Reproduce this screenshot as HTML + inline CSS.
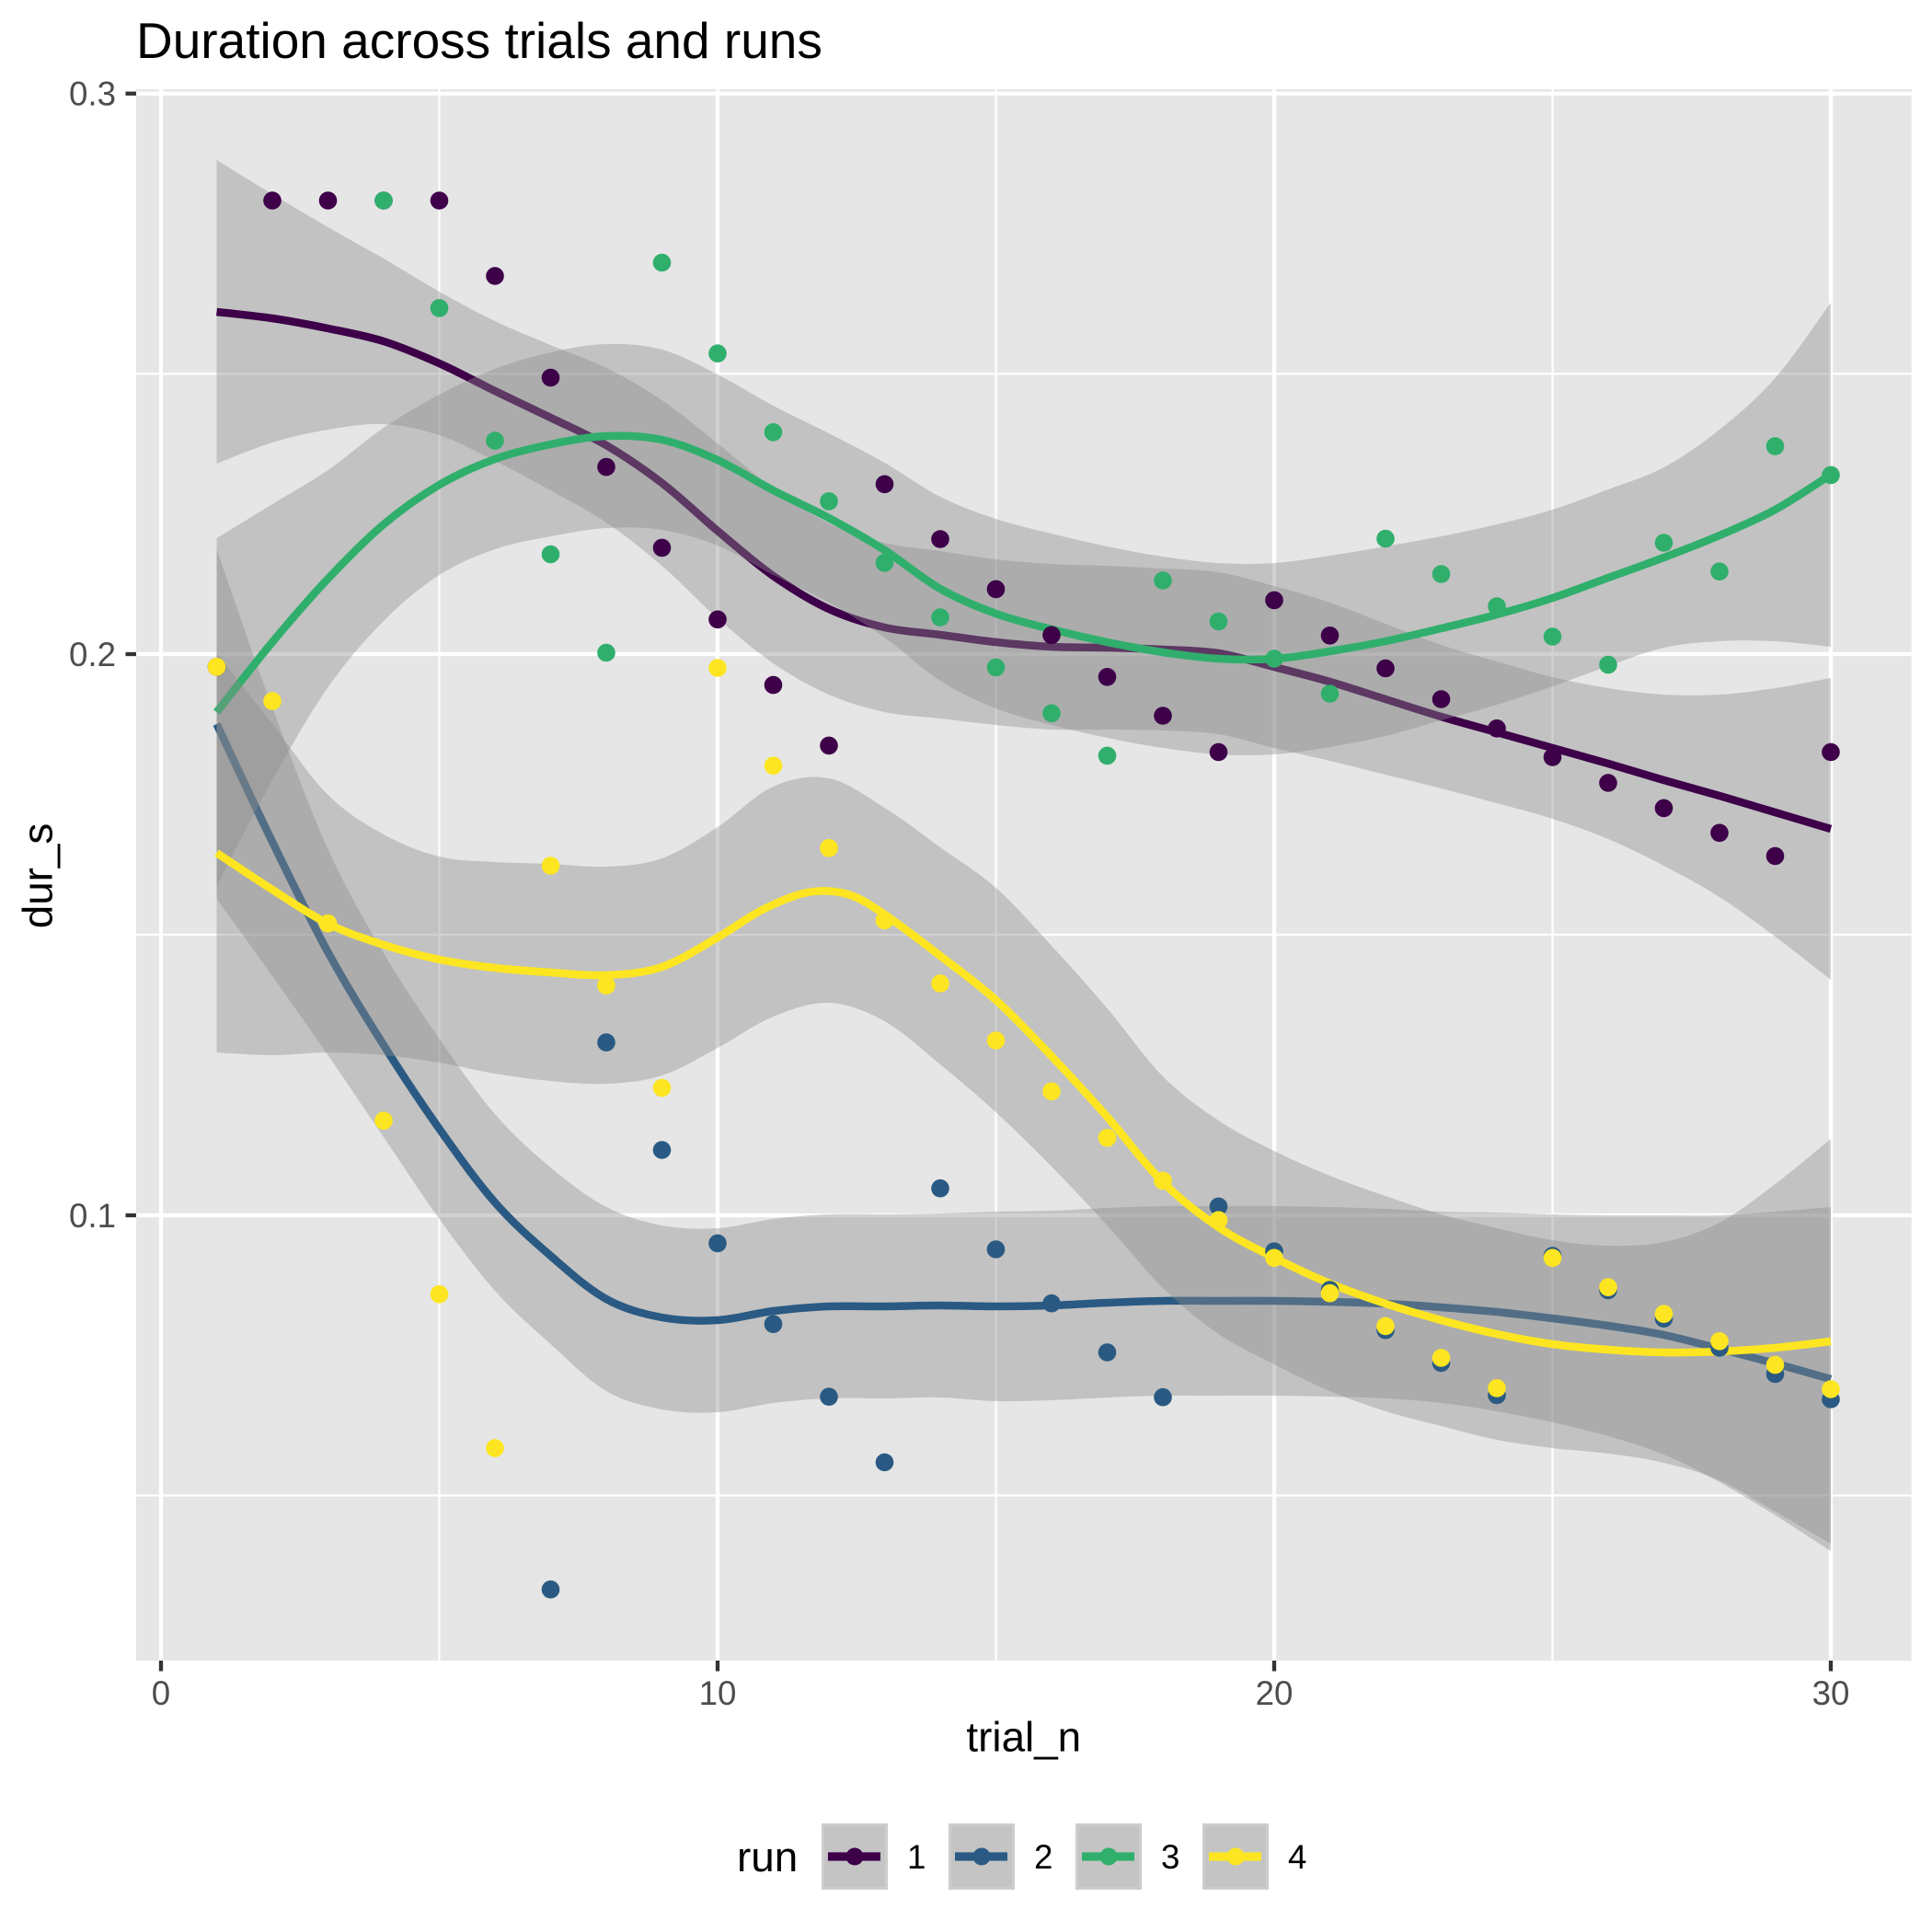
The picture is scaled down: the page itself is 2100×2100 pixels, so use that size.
<!DOCTYPE html>
<html>
<head>
<meta charset="utf-8">
<style>
html,body{margin:0;padding:0;background:#fff;}
svg{display:block;}
text{font-family:"Liberation Sans",Arial,Helvetica,sans-serif;}
</style>
</head>
<body>
<svg id="chart" width="2100" height="2100" viewBox="0 0 2100 2100" xmlns="http://www.w3.org/2000/svg">
<rect x="0" y="0" width="2100" height="2100" fill="#ffffff"/>
<!-- title -->
<text x="148" y="63" font-size="55" fill="#000">Duration across trials and runs</text>

<!-- panel -->
<rect x="148" y="97" width="1929.7" height="1708" fill="#E6E6E6"/>
<g stroke="#ffffff" fill="none">
  <g stroke-width="2.2">
    <line x1="148" x2="2077.7" y1="1625.5" y2="1625.5"/>
    <line x1="148" x2="2077.7" y1="1016" y2="1016"/>
    <line x1="148" x2="2077.7" y1="406.3" y2="406.3"/>
    <line y1="97" y2="1805" x1="477.5" x2="477.5"/>
    <line y1="97" y2="1805" x1="1082.5" x2="1082.5"/>
    <line y1="97" y2="1805" x1="1687.5" x2="1687.5"/>
  </g>
  <g stroke-width="4.3">
    <line x1="148" x2="2077.7" y1="1321" y2="1321"/>
    <line x1="148" x2="2077.7" y1="711" y2="711"/>
    <line x1="148" x2="2077.7" y1="101.7" y2="101.7"/>
    <line y1="97" y2="1805" x1="175" x2="175"/>
    <line y1="97" y2="1805" x1="780" x2="780"/>
    <line y1="97" y2="1805" x1="1385" x2="1385"/>
    <line y1="97" y2="1805" x1="1990" x2="1990"/>
  </g>
</g>

<!-- run 1 -->
<polygon class="band" fill="#8C8C8C" fill-opacity="0.4" points="235.5,174 296,211 356.5,247 417,281 477.5,317 538,349 598.5,375 659,400 719.5,435 780,482 840.5,531 901,569 961.5,590 1022,599 1082.5,608 1143,613 1203.5,615 1264,618 1324.5,622 1385,637 1445.5,655 1506,678 1566.5,701 1627,719 1687.5,736 1748,748 1808.5,755 1869,755 1929.5,748 1990,737 1990,1065 1929.5,1018 1869,975 1808.5,941 1748,912 1687.5,890 1627,873 1566.5,857 1506,842 1445.5,827 1385,813 1324.5,798 1264,794 1203.5,793 1143,793 1082.5,788 1022,781 961.5,774 901,755 840.5,721 780,672 719.5,615 659,568 598.5,533 538,501 477.5,473 417,461 356.5,467 296,481 235.5,504"/>
<polyline class="sm" fill="none" stroke="#3D0049" stroke-width="8.5" stroke-linejoin="round" points="235.5,339 296,346 356.5,357 417,371 477.5,395 538,425 598.5,454 659,484 719.5,525 780,577 840.5,626 901,662 961.5,682 1022,690 1082.5,698 1143,703 1203.5,704 1264,706 1324.5,710 1385,725 1445.5,741 1506,760 1566.5,779 1627,796 1687.5,813 1748,830 1808.5,848 1869,865 1929.5,883 1990,901"/>

<!-- run 2 -->
<polygon class="band" fill="#8C8C8C" fill-opacity="0.4" points="235.5,597 296,769 356.5,923 417,1036 477.5,1129 538,1211 598.5,1269 659,1312 719.5,1332 780,1335 840.5,1325 901,1320 961.5,1320 1022,1319 1082.5,1317 1143,1316 1203.5,1313 1264,1311 1324.5,1311 1385,1311 1445.5,1312 1506,1314 1566.5,1317 1627,1318 1687.5,1320 1748,1321 1808.5,1321 1869,1321 1929.5,1317 1990,1312 1990,1686 1929.5,1647 1869,1611 1808.5,1581 1748,1561 1687.5,1546 1627,1534 1566.5,1525 1506,1520 1445.5,1518 1385,1517 1324.5,1517 1264,1517 1203.5,1519 1143,1522 1082.5,1523 1022,1519 961.5,1520 901,1520 840.5,1525 780,1535 719.5,1532 659,1512 598.5,1461 538,1403 477.5,1325 417,1236 356.5,1147 296,1061 235.5,977"/>
<polyline class="sm" fill="none" stroke="#2A5A83" stroke-width="8.5" stroke-linejoin="round" points="235.5,787 296,915 356.5,1035 417,1136 477.5,1227 538,1307 598.5,1365 659,1412 719.5,1432 780,1435 840.5,1425 901,1420 961.5,1420 1022,1419 1082.5,1420 1143,1419 1203.5,1416 1264,1414 1324.5,1414 1385,1414 1445.5,1415 1506,1417 1566.5,1421 1627,1426 1687.5,1433 1748,1441 1808.5,1451 1869,1466 1929.5,1482 1990,1499"/>

<!-- run 3 -->
<polygon class="band" fill="#8C8C8C" fill-opacity="0.4" points="235.5,585 296,548 356.5,511 417,465 477.5,429 538,401 598.5,383 659,374 719.5,380 780,407 840.5,441 901,471 961.5,503 1022,540 1082.5,564 1143,580 1203.5,594 1264,605 1324.5,612 1385,612 1445.5,604 1506,594 1566.5,583 1627,570 1687.5,554 1748,532 1808.5,508 1869,467 1929.5,411 1990,329 1990,703 1929.5,697 1869,697 1808.5,704 1748,724 1687.5,746 1627,766 1566.5,783 1506,800 1445.5,812 1385,820 1324.5,820 1264,813 1203.5,802 1143,788 1082.5,770 1022,740 961.5,693 901,655 840.5,625 780,593 719.5,576 659,574 598.5,583 538,597 477.5,625 417,675 356.5,747 296,848 235.5,963"/>
<polyline class="sm" fill="none" stroke="#30AF6C" stroke-width="8.5" stroke-linejoin="round" points="235.5,774 296,698 356.5,629 417,570 477.5,527 538,499 598.5,483 659,474 719.5,478 780,500 840.5,533 901,563 961.5,598 1022,640 1082.5,667 1143,684 1203.5,698 1264,709 1324.5,716 1385,716 1445.5,708 1506,697 1566.5,683 1627,668 1687.5,650 1748,628 1808.5,606 1869,582 1929.5,554 1990,516"/>

<!-- run 4 -->
<polygon class="band" fill="#8C8C8C" fill-opacity="0.4" points="235.5,710 296,787 356.5,864 417,907 477.5,931 538,937 598.5,939 659,942 719.5,933 780,899 840.5,855 901,846 961.5,878 1022,921 1082.5,965 1143,1028 1203.5,1096 1264,1170 1324.5,1218 1385,1251 1445.5,1278 1506,1300 1566.5,1320 1627,1335 1687.5,1348 1748,1354 1808.5,1350 1869,1329 1929.5,1287 1990,1238 1990,1678 1929.5,1643 1869,1609 1808.5,1590 1748,1580 1687.5,1574 1627,1565 1566.5,1550 1506,1534 1445.5,1512 1385,1483 1324.5,1450 1264,1400 1203.5,1332 1143,1268 1082.5,1209 1022,1157 961.5,1110 901,1090 840.5,1105 780,1139 719.5,1169 659,1178 598.5,1175 538,1167 477.5,1155 417,1147 356.5,1144 296,1147 235.5,1144"/>
<polyline class="sm" fill="none" stroke="#FDE621" stroke-width="8.5" stroke-linejoin="round" points="235.5,927 296,967 356.5,1004 417,1027 477.5,1043 538,1052 598.5,1057 659,1060 719.5,1051 780,1019 828.5,989 877.9,970 921.3,972 961.5,994 1022,1039 1082.5,1087 1143,1148 1203.5,1214 1264,1285 1324.5,1334 1385,1367 1445.5,1395 1506,1417 1566.5,1435 1627,1450 1687.5,1461 1748,1467 1808.5,1470 1869,1469 1929.5,1465 1990,1458"/>

<!-- points run 1 -->
<g fill="#3D0049">
<circle cx="235.5" cy="724.8" r="9.8"/>
<circle cx="296" cy="218" r="9.8"/><circle cx="356.5" cy="218" r="9.8"/><circle cx="417" cy="218" r="9.8"/><circle cx="477.5" cy="218" r="9.8"/>
<circle cx="538" cy="300" r="9.8"/><circle cx="598.5" cy="410.5" r="9.8"/><circle cx="659" cy="507.6" r="9.8"/><circle cx="719.5" cy="595.4" r="9.8"/>
<circle cx="780" cy="673.3" r="9.8"/><circle cx="840.5" cy="744.6" r="9.8"/><circle cx="901" cy="810.4" r="9.8"/><circle cx="961.5" cy="526.3" r="9.8"/>
<circle cx="1022" cy="586" r="9.8"/><circle cx="1082.5" cy="640.4" r="9.8"/><circle cx="1143" cy="690.3" r="9.8"/><circle cx="1203.5" cy="735.8" r="9.8"/>
<circle cx="1264" cy="778" r="9.8"/><circle cx="1324.5" cy="817.5" r="9.8"/><circle cx="1385" cy="652.4" r="9.8"/><circle cx="1445.5" cy="690.8" r="9.8"/>
<circle cx="1506" cy="726.5" r="9.8"/><circle cx="1566.5" cy="760" r="9.8"/><circle cx="1627" cy="791.8" r="9.8"/><circle cx="1687.5" cy="823" r="9.8"/>
<circle cx="1748" cy="851" r="9.8"/><circle cx="1808.5" cy="878.4" r="9.8"/><circle cx="1869" cy="905.3" r="9.8"/><circle cx="1929.5" cy="930.5" r="9.8"/>
<circle cx="1990" cy="817.5" r="9.8"/>
</g>
<!-- points run 2 -->
<g fill="#2A5A83">
<circle cx="598.5" cy="1727.7" r="9.8"/><circle cx="659" cy="1133.1" r="9.8"/><circle cx="719.5" cy="1250" r="9.8"/><circle cx="780" cy="1351.4" r="9.8"/>
<circle cx="840.5" cy="1439.2" r="9.8"/><circle cx="901" cy="1518.2" r="9.8"/><circle cx="961.5" cy="1589.5" r="9.8"/><circle cx="1022" cy="1291.7" r="9.8"/>
<circle cx="1082.5" cy="1358" r="9.8"/><circle cx="1143" cy="1416.7" r="9.8"/><circle cx="1203.5" cy="1470" r="9.8"/><circle cx="1264" cy="1518.7" r="9.8"/>
<circle cx="1324.5" cy="1311.4" r="9.8"/><circle cx="1385" cy="1360.2" r="9.8"/><circle cx="1445.5" cy="1402" r="9.8"/><circle cx="1506" cy="1445.8" r="9.8"/>
<circle cx="1566.5" cy="1481.4" r="9.8"/><circle cx="1627" cy="1516.5" r="9.8"/><circle cx="1687.5" cy="1365" r="9.8"/><circle cx="1748" cy="1402.5" r="9.8"/>
<circle cx="1808.5" cy="1433.2" r="9.8"/><circle cx="1869" cy="1465" r="9.8"/><circle cx="1929.5" cy="1493.5" r="9.8"/><circle cx="1990" cy="1521" r="9.8"/>
</g>
<!-- points run 3 -->
<g fill="#30AF6C">
<circle cx="417" cy="218" r="9.8"/><circle cx="477.5" cy="334.9" r="9.8"/><circle cx="538" cy="479.1" r="9.8"/><circle cx="598.5" cy="602.5" r="9.8"/>
<circle cx="659" cy="709.5" r="9.8"/><circle cx="719.5" cy="285.5" r="9.8"/><circle cx="780" cy="384.2" r="9.8"/><circle cx="840.5" cy="469.8" r="9.8"/>
<circle cx="901" cy="544.9" r="9.8"/><circle cx="961.5" cy="611.8" r="9.8"/><circle cx="1022" cy="671.1" r="9.8"/><circle cx="1082.5" cy="725.4" r="9.8"/>
<circle cx="1143" cy="775.3" r="9.8"/><circle cx="1203.5" cy="821.4" r="9.8"/><circle cx="1264" cy="631" r="9.8"/><circle cx="1324.5" cy="675.5" r="9.8"/>
<circle cx="1385" cy="716" r="9.8"/><circle cx="1445.5" cy="754" r="9.8"/><circle cx="1506" cy="585.5" r="9.8"/><circle cx="1566.5" cy="624" r="9.8"/>
<circle cx="1627" cy="659" r="9.8"/><circle cx="1687.5" cy="692" r="9.8"/><circle cx="1748" cy="722.6" r="9.8"/><circle cx="1808.5" cy="590" r="9.8"/>
<circle cx="1869" cy="621.2" r="9.8"/><circle cx="1929.5" cy="485.1" r="9.8"/><circle cx="1990" cy="516.4" r="9.8"/>
</g>
<!-- points run 4 -->
<g fill="#FDE621">
<circle cx="235.5" cy="724.8" r="9.8"/><circle cx="296" cy="762.1" r="9.8"/><circle cx="356.5" cy="1003.7" r="9.8"/><circle cx="417" cy="1218.2" r="9.8"/>
<circle cx="477.5" cy="1406.8" r="9.8"/><circle cx="538" cy="1574.1" r="9.8"/><circle cx="598.5" cy="941" r="9.8"/><circle cx="659" cy="1071.2" r="9.8"/>
<circle cx="719.5" cy="1182.5" r="9.8"/><circle cx="780" cy="726" r="9.8"/><circle cx="840.5" cy="832.3" r="9.8"/><circle cx="901" cy="921.8" r="9.8"/>
<circle cx="961.5" cy="1000.4" r="9.8"/><circle cx="1022" cy="1069" r="9.8"/><circle cx="1082.5" cy="1131" r="9.8"/><circle cx="1143" cy="1186.3" r="9.8"/>
<circle cx="1203.5" cy="1236.8" r="9.8"/><circle cx="1264" cy="1283.4" r="9.8"/><circle cx="1324.5" cy="1326.2" r="9.8"/><circle cx="1385" cy="1367.3" r="9.8"/>
<circle cx="1445.5" cy="1405.7" r="9.8"/><circle cx="1506" cy="1441.4" r="9.8"/><circle cx="1566.5" cy="1476" r="9.8"/><circle cx="1627" cy="1508.9" r="9.8"/>
<circle cx="1687.5" cy="1367.3" r="9.8"/><circle cx="1748" cy="1399.2" r="9.8"/><circle cx="1808.5" cy="1428.2" r="9.8"/><circle cx="1869" cy="1457.8" r="9.8"/>
<circle cx="1929.5" cy="1483.6" r="9.8"/><circle cx="1990" cy="1510" r="9.8"/>
</g>

<!-- axis ticks -->
<g stroke="#333333" stroke-width="4.3">
  <line x1="136.5" x2="148" y1="101.7" y2="101.7"/>
  <line x1="136.5" x2="148" y1="711" y2="711"/>
  <line x1="136.5" x2="148" y1="1321" y2="1321"/>
  <line x1="175" x2="175" y1="1805" y2="1816.5"/>
  <line x1="780" x2="780" y1="1805" y2="1816.5"/>
  <line x1="1385" x2="1385" y1="1805" y2="1816.5"/>
  <line x1="1990" x2="1990" y1="1805" y2="1816.5"/>
</g>
<g font-size="36.7" fill="#4D4D4D">
  <text x="126" y="114.7" text-anchor="end">0.3</text>
  <text x="126" y="724" text-anchor="end">0.2</text>
  <text x="126" y="1334" text-anchor="end">0.1</text>
  <text x="175" y="1853" text-anchor="middle">0</text>
  <text x="780" y="1853" text-anchor="middle">10</text>
  <text x="1385" y="1853" text-anchor="middle">20</text>
  <text x="1990" y="1853" text-anchor="middle">30</text>
</g>
<!-- axis titles -->
<text x="1112.8" y="1903.5" font-size="45.8" text-anchor="middle" fill="#000">trial_n</text>
<text transform="translate(56.5,952) rotate(-90)" font-size="45.8" text-anchor="middle" fill="#000">dur_s</text>

<!-- legend -->
<text x="801" y="2034" font-size="45.8" fill="#000">run</text>
<g>
  <rect x="893" y="1982" width="72" height="72" fill="#CDCDCD"/>
  <rect x="896" y="1985" width="66" height="66" fill="#C4C4C4"/>
  <line x1="900" x2="957" y1="2018" y2="2018" stroke="#3D0049" stroke-width="9.3"/>
  <circle cx="929" cy="2018" r="9.5" fill="#3D0049"/>
  <text x="986" y="2031" font-size="36.7" fill="#000">1</text>

  <rect x="1031" y="1982" width="72" height="72" fill="#CDCDCD"/>
  <rect x="1034" y="1985" width="66" height="66" fill="#C4C4C4"/>
  <line x1="1038" x2="1095" y1="2018" y2="2018" stroke="#2A5A83" stroke-width="9.3"/>
  <circle cx="1067" cy="2018" r="9.5" fill="#2A5A83"/>
  <text x="1124" y="2031" font-size="36.7" fill="#000">2</text>

  <rect x="1169" y="1982" width="72" height="72" fill="#CDCDCD"/>
  <rect x="1172" y="1985" width="66" height="66" fill="#C4C4C4"/>
  <line x1="1176" x2="1233" y1="2018" y2="2018" stroke="#30AF6C" stroke-width="9.3"/>
  <circle cx="1205" cy="2018" r="9.5" fill="#30AF6C"/>
  <text x="1262" y="2031" font-size="36.7" fill="#000">3</text>

  <rect x="1307" y="1982" width="72" height="72" fill="#CDCDCD"/>
  <rect x="1310" y="1985" width="66" height="66" fill="#C4C4C4"/>
  <line x1="1314" x2="1371" y1="2018" y2="2018" stroke="#FDE621" stroke-width="9.3"/>
  <circle cx="1343" cy="2018" r="9.5" fill="#FDE621"/>
  <text x="1400" y="2031" font-size="36.7" fill="#000">4</text>
</g>
</svg>
<script>
(function(){
  try{
    var NS='http://www.w3.org/2000/svg';
    function parse(s){
      var parts=s.trim().split(/\s+/), out=[];
      for(var i=0;i<parts.length;i++){var q=parts[i].split(',');out.push([parseFloat(q[0]),parseFloat(q[1])]);}
      return out;
    }
    function cr(pts,move){
      var d=(move?'M':'L')+pts[0][0]+','+pts[0][1];
      for(var i=0;i<pts.length-1;i++){
        var p0=pts[i-1]||pts[i], p1=pts[i], p2=pts[i+1], p3=pts[i+2]||pts[i+1];
        var c1x=p1[0]+(p2[0]-p0[0])/6, c1y=p1[1]+(p2[1]-p0[1])/6;
        var c2x=p2[0]-(p3[0]-p1[0])/6, c2y=p2[1]-(p3[1]-p1[1])/6;
        d+=' C'+c1x.toFixed(2)+','+c1y.toFixed(2)+' '+c2x.toFixed(2)+','+c2y.toFixed(2)+' '+p2[0]+','+p2[1];
      }
      return d;
    }
    function copyAttrs(from,to,names){
      for(var i=0;i<names.length;i++){if(from.hasAttribute(names[i]))to.setAttribute(names[i],from.getAttribute(names[i]));}
    }
    var lines=document.querySelectorAll('polyline.sm');
    for(var i=0;i<lines.length;i++){
      var el=lines[i], pts=parse(el.getAttribute('points'));
      var p=document.createElementNS(NS,'path');
      p.setAttribute('d',cr(pts,true));
      copyAttrs(el,p,['fill','stroke','stroke-width','stroke-linejoin']);
      el.parentNode.replaceChild(p,el);
    }
    var bands=document.querySelectorAll('polygon.band');
    for(var j=0;j<bands.length;j++){
      var b=bands[j], bp=parse(b.getAttribute('points'));
      var n=bp.length/2, up=bp.slice(0,n), lo=bp.slice(n);
      var pb=document.createElementNS(NS,'path');
      pb.setAttribute('d',cr(up,true)+' '+cr(lo,false)+' Z');
      copyAttrs(b,pb,['fill','fill-opacity']);
      b.parentNode.replaceChild(pb,b);
    }
  }catch(e){}
})();
</script>
</body>
</html>
